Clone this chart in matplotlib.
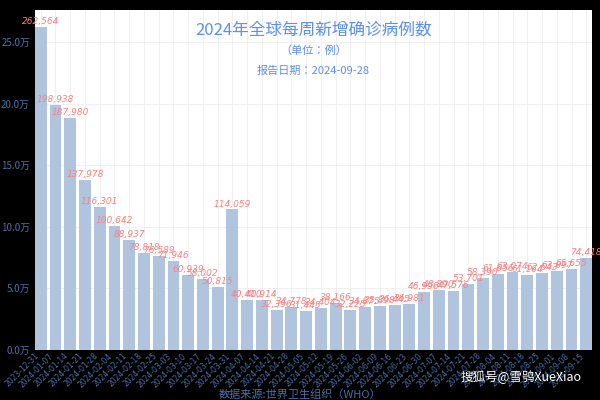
import matplotlib.pyplot as plt
import matplotlib.ticker as mticker
from matplotlib import font_manager
import pandas as pd

names = {f.name for f in font_manager.fontManager.ttflist}
cjk = [n for n in ['Noto Sans CJK SC', 'Noto Sans CJK JP', 'Noto Sans CJK TC', 'Noto Sans CJK KR'] if n in names]
if not cjk:
    cjk = sorted(n for n in names if 'CJK' in n)
plt.rcParams['font.family'] = cjk[:1] + ['DejaVu Sans']

# Weekly new confirmed cases, 2024
weeks = pd.date_range('2023-12-31', '2024-09-15', freq='7D').strftime('%Y-%m-%d').tolist()
cases = [262564, 198938, 187980, 137978, 116301, 100642, 88937, 78818, 76589, 71946,
         60939, 58002, 50815, 114059, 40410, 40914, 32396, 34778, 31445, 34404,
         38166, 32225, 34875, 35898, 36445, 36981, 46996, 48890, 47576, 53701,
         58390, 61656, 63074, 61164, 62643, 63897, 65655, 74418]

fig = plt.figure(figsize=(6, 4), dpi=100, facecolor='black')
ax = fig.add_axes([0.058, 0.125, 0.929, 0.85])
ax.set_facecolor('white')

x = range(len(weeks))
ax.bar(x, cases, width=0.8, color='#B0C4DE', zorder=2)
for i, v in zip(x, cases):
    ax.text(i, v + 800, f'{v:,}', ha='center', va='bottom', fontsize=6.5,
            color='#FF7F7F', style='italic', family='DejaVu Sans', zorder=3)

ax.set_xlim(-0.4, len(weeks) - 0.6)
ax.set_ylim(0, 276000)
ax.yaxis.set_major_locator(mticker.MultipleLocator(50000))
ax.yaxis.set_major_formatter(mticker.FuncFormatter(lambda v, p: f'{v/10000:.1f}万'))
ax.set_xticks(list(x))
ax.set_xticklabels(weeks, rotation=45, ha='right', fontsize=5.5, color='#4A6FA5',
                   family='DejaVu Sans')
ax.tick_params(axis='y', labelsize=7, colors='#4A6FA5', length=0)
ax.tick_params(axis='x', length=0, pad=1)
ax.grid(True, color='#EEEEEE', linewidth=0.6, zorder=0)
for s in ax.spines.values():
    s.set_visible(False)

ax.text(0.5, 0.965, '2024年全球每周新增确诊病例数', transform=ax.transAxes,
        ha='center', va='top', fontsize=12, color='#5B8FF9')
ax.text(0.5, 0.895, '（单位：例）', transform=ax.transAxes,
        ha='center', va='top', fontsize=8, color='#5B8FF9')
ax.text(0.5, 0.835, '报告日期：2024-09-28', transform=ax.transAxes,
        ha='center', va='top', fontsize=8, color='#5B8FF9')
fig.text(0.5, 0.0, '数据来源:世界卫生组织（WHO）', ha='center', va='bottom',
         fontsize=8, color='#4A6FA5')
fig.text(0.97, 0.04, '搜狐号@雪鸮XueXiao', ha='right', va='bottom',
         fontsize=9, color='white')

fig.savefig('out.png', dpi=100, facecolor='black')
